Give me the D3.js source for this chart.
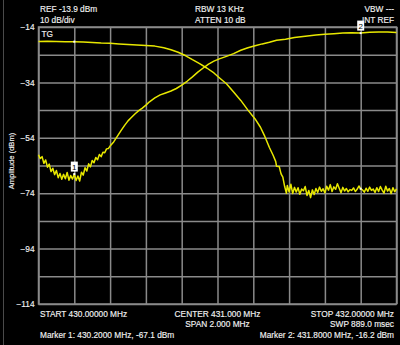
<!DOCTYPE html>
<html>
<head>
<meta charset="utf-8">
<script src="https://cdn.jsdelivr.net/npm/d3@7"></script>
<style>
  body { margin: 0; background: #000; }
  svg text { font-family: "Liberation Sans", Arial, sans-serif; fill: #f2f2f2; stroke: #f2f2f2; stroke-width: 0.15px; }
</style>
</head>
<body>
<svg id="chart" width="400" height="345"></svg>
<script>
// spectrum analyser trace (MHz, dBm)
var traceRise = [
  [430.00,-60.1],[430.01,-61.5],[430.02,-60.8],[430.03,-63.2],[430.04,-62.0],[430.05,-64.6],
  [430.06,-63.5],[430.07,-66.2],[430.08,-65.0],[430.09,-67.3],[430.10,-65.8],[430.11,-68.4],
  [430.12,-66.9],[430.13,-69.0],[430.14,-67.2],[430.15,-68.8],[430.16,-66.5],[430.17,-69.3],
  [430.18,-67.6],[430.19,-68.9],[430.20,-67.1],[430.21,-69.4],[430.22,-67.8],[430.23,-69.6],
  [430.24,-66.4],[430.25,-67.5],[430.26,-64.8],[430.27,-66.0],[430.28,-63.4],[430.29,-64.5],
  [430.30,-62.2],[430.31,-63.0],[430.32,-61.1],[430.33,-61.9],[430.34,-60.0],[430.35,-60.8],
  [430.36,-59.2],[430.37,-59.4],[430.38,-58.0],[430.39,-57.9],[430.40,-57.0],
  [430.42,-55.5],[430.44,-53.5],[430.46,-51.5],[430.48,-49.6],[430.50,-47.9],[430.52,-46.6],
  [430.54,-45.3],[430.56,-44.2],[430.58,-43.3],[430.60,-42.2],[430.62,-41.0],[430.65,-39.6],
  [430.68,-38.5],[430.71,-37.8],[430.74,-37.1],[430.77,-36.2],[430.80,-35.0],[430.83,-33.6],
  [430.86,-32.0],[430.89,-30.3],[430.92,-28.8],[430.95,-27.4],[430.98,-26.3],[431.01,-25.5],
  [431.05,-24.6],[431.09,-23.6],[431.13,-22.4],[431.17,-21.5],[431.21,-20.8],[431.25,-20.1],
  [431.29,-19.5],[431.33,-18.8],[431.38,-18.4],[431.43,-17.8],[431.49,-17.3],[431.55,-16.9],
  [431.60,-16.6],[431.65,-16.4],[431.70,-16.2],[431.75,-16.1],[431.80,-16.2],[431.85,-15.9],
  [431.90,-15.8],[431.95,-15.8],[432.00,-16.0]
];

var traceFall = [
  [430.00,-19.2],[430.05,-19.1],[430.10,-19.2],[430.15,-19.3],[430.20,-19.3],[430.25,-19.4],
  [430.30,-19.6],[430.35,-19.8],[430.40,-19.9],[430.45,-20.1],[430.50,-20.3],[430.55,-20.5],
  [430.60,-20.7],[430.65,-20.9],[430.70,-21.5],[430.74,-22.2],[430.78,-23.1],[430.82,-24.3],
  [430.86,-25.8],[430.90,-27.2],[430.94,-28.8],[430.98,-30.6],[431.01,-32.3],[431.05,-34.5],
  [431.09,-37.5],[431.13,-40.5],[431.17,-44.0],[431.21,-47.2],[431.24,-50.2],[431.265,-53.6],
  [431.29,-57.5],[431.31,-60.2],[431.325,-62.5],[431.33,-64.3],[431.345,-64.4],[431.355,-67.0],
  [431.365,-68.2],[431.375,-71.5],[431.385,-74.0],
  [431.39,-71.2],[431.40,-73.5],[431.41,-70.8],[431.42,-74.1],[431.43,-71.9],[431.44,-73.6],
  [431.45,-72.0],[431.46,-74.4],[431.47,-72.5],[431.48,-73.1],[431.49,-71.6],[431.50,-74.8],
  [431.51,-73.0],[431.52,-75.6],[431.53,-72.8],[431.54,-74.5],[431.55,-72.3],[431.56,-73.7],
  [431.57,-71.8],[431.58,-73.3],[431.59,-72.4],[431.60,-73.9],[431.61,-71.5],[431.62,-72.9],
  [431.63,-70.9],[431.64,-73.4],[431.65,-71.7],[431.66,-72.6],[431.67,-70.6],[431.68,-72.2],
  [431.69,-73.8],[431.70,-71.9],[431.71,-73.2],[431.72,-72.3],[431.73,-73.5],[431.74,-72.7],
  [431.75,-73.0],[431.76,-72.1],[431.77,-73.4],[431.78,-72.6],[431.79,-71.4],[431.80,-72.4],
  [431.81,-72.8],[431.82,-73.6],[431.83,-72.2],[431.84,-73.3],[431.85,-71.8],[431.86,-73.0],
  [431.87,-72.5],[431.88,-73.7],[431.89,-72.0],[431.90,-73.4],[431.91,-71.6],[431.92,-72.9],
  [431.93,-74.0],[431.94,-71.5],[431.95,-73.2],[431.96,-72.3],[431.97,-74.1],[431.98,-72.0],
  [431.99,-73.5],[432.00,-72.4]
];

var markers = [
  { label: "1", freq: 430.2, dbm: -67.1, dotFall: -19.3 },
  { label: "2", freq: 431.8, dbm: -16.2, dotFall: -72.4 }
];

var yTickLabels = [-14, -34, -54, -74, -94, -114];

var headerLeft = ["REF -13.9 dBm", "10 dB/div"],
    headerMid = ["RBW 13 KHz", "ATTEN 10 dB"],
    headerRight = ["VBW ---", "INT REF"],
    footerLeft = ["START 430.00000 MHz", "", "Marker 1: 430.2000 MHz, -67.1 dBm"],
    footerMid = ["CENTER 431.000 MHz", "SPAN 2.000 MHz"],
    footerRight = ["STOP 432.00000 MHz", "SWP 889.0 msec", "Marker 2: 431.8000 MHz, -16.2 dBm"];

var svg = d3.select("#chart");
var margin = {top: 27, right: 3.5, bottom: 41, left: 38.5},
    width = 400 - margin.left - margin.right,
    height = 345 - margin.top - margin.bottom;

svg.append("line")
    .attr("x1", 3.5).attr("x2", 3.5).attr("y1", 0).attr("y2", 345)
    .attr("stroke", "#4a4a4a");

var g = svg.append("g").attr("transform", "translate(" + margin.left + "," + margin.top + ")");

var x = d3.scaleLinear().domain([430, 432]).range([0, width]);
var y = d3.scaleLinear().domain([-114, -14]).range([height, 0]);

// grid, 10 divisions each way
g.append("g")
    .attr("class", "grid")
    .attr("transform", "translate(0," + height + ")")
    .call(d3.axisBottom(x).tickValues(d3.range(11).map(function(i) { return 430 + i * 0.2; }))
      .tickSize(-height).tickFormat(""));

g.append("g")
    .attr("class", "grid")
    .call(d3.axisLeft(y).tickValues(d3.range(11).map(function(i) { return -114 + i * 10; }))
      .tickSize(-width).tickFormat(""));

g.selectAll(".grid .domain").remove();
g.selectAll(".grid line").attr("stroke", "#8a8a8a").attr("stroke-width", 1.5);

g.append("rect")
    .attr("width", width).attr("height", height)
    .attr("fill", "none").attr("stroke", "#8a8a8a").attr("stroke-width", 1.5);

var yAxis = g.append("g")
    .call(d3.axisLeft(y).tickValues(yTickLabels).tickSize(0).tickPadding(4));
yAxis.select(".domain").remove();
yAxis.selectAll("text").attr("font-size", 8.3).style("font-family", "Liberation Sans, Arial, sans-serif");

svg.append("text")
    .attr("transform", "translate(14,161) rotate(-90)")
    .attr("text-anchor", "middle")
    .attr("font-size", 7.6)
    .text("Amplitude (dBm)");

var line = d3.line()
    .x(function(d) { return x(d[0]); })
    .y(function(d) { return y(d[1]); });

[traceFall, traceRise].forEach(function(t) {
  g.append("path")
      .datum(t)
      .attr("fill", "none")
      .attr("stroke", "#e8e800")
      .attr("stroke-width", 1.5)
      .attr("stroke-linejoin", "round")
      .attr("d", line);
});

g.append("text")
    .attr("x", 3).attr("y", 9.5)
    .attr("font-size", 8.3)
    .text("TG");

// markers
markers.forEach(function(m) {
  var mx = x(m.freq), my = y(m.dbm);
  g.append("rect").attr("x", mx - 1).attr("y", my - 1).attr("width", 2).attr("height", 2).attr("fill", "#fff");
  g.append("rect").attr("x", mx - 1).attr("y", y(m.dotFall) - 1).attr("width", 2).attr("height", 2).attr("fill", "#fff");
  g.append("rect")
      .attr("x", mx - 3.5).attr("y", my - 12.5)
      .attr("width", 7).attr("height", 10)
      .attr("fill", "#fff");
  g.append("text")
      .attr("x", mx).attr("y", my - 4.5)
      .attr("text-anchor", "middle")
      .attr("font-size", 8)
      .style("fill", "#000")
      .style("stroke", "none")
      .text(m.label);
});

function block(lines, xpos, anchor, baselines) {
  lines.forEach(function(s, i) {
    if (!s) return;
    svg.append("text")
        .attr("x", xpos).attr("y", baselines[i])
        .attr("text-anchor", anchor)
        .attr("font-size", 8.3)
        .text(s);
  });
}

block(headerLeft, 40, "start", [11.5, 23]);
block(headerMid, 195, "start", [11.5, 23]);
block(headerRight, 394, "end", [11.5, 23]);
block(footerLeft, 40, "start", [316.5, 327, 337.5]);
block(footerMid, margin.left + width / 2, "middle", [316.5, 327]);
block(footerRight, 394, "end", [316.5, 327, 337.5]);
</script>
</body>
</html>
